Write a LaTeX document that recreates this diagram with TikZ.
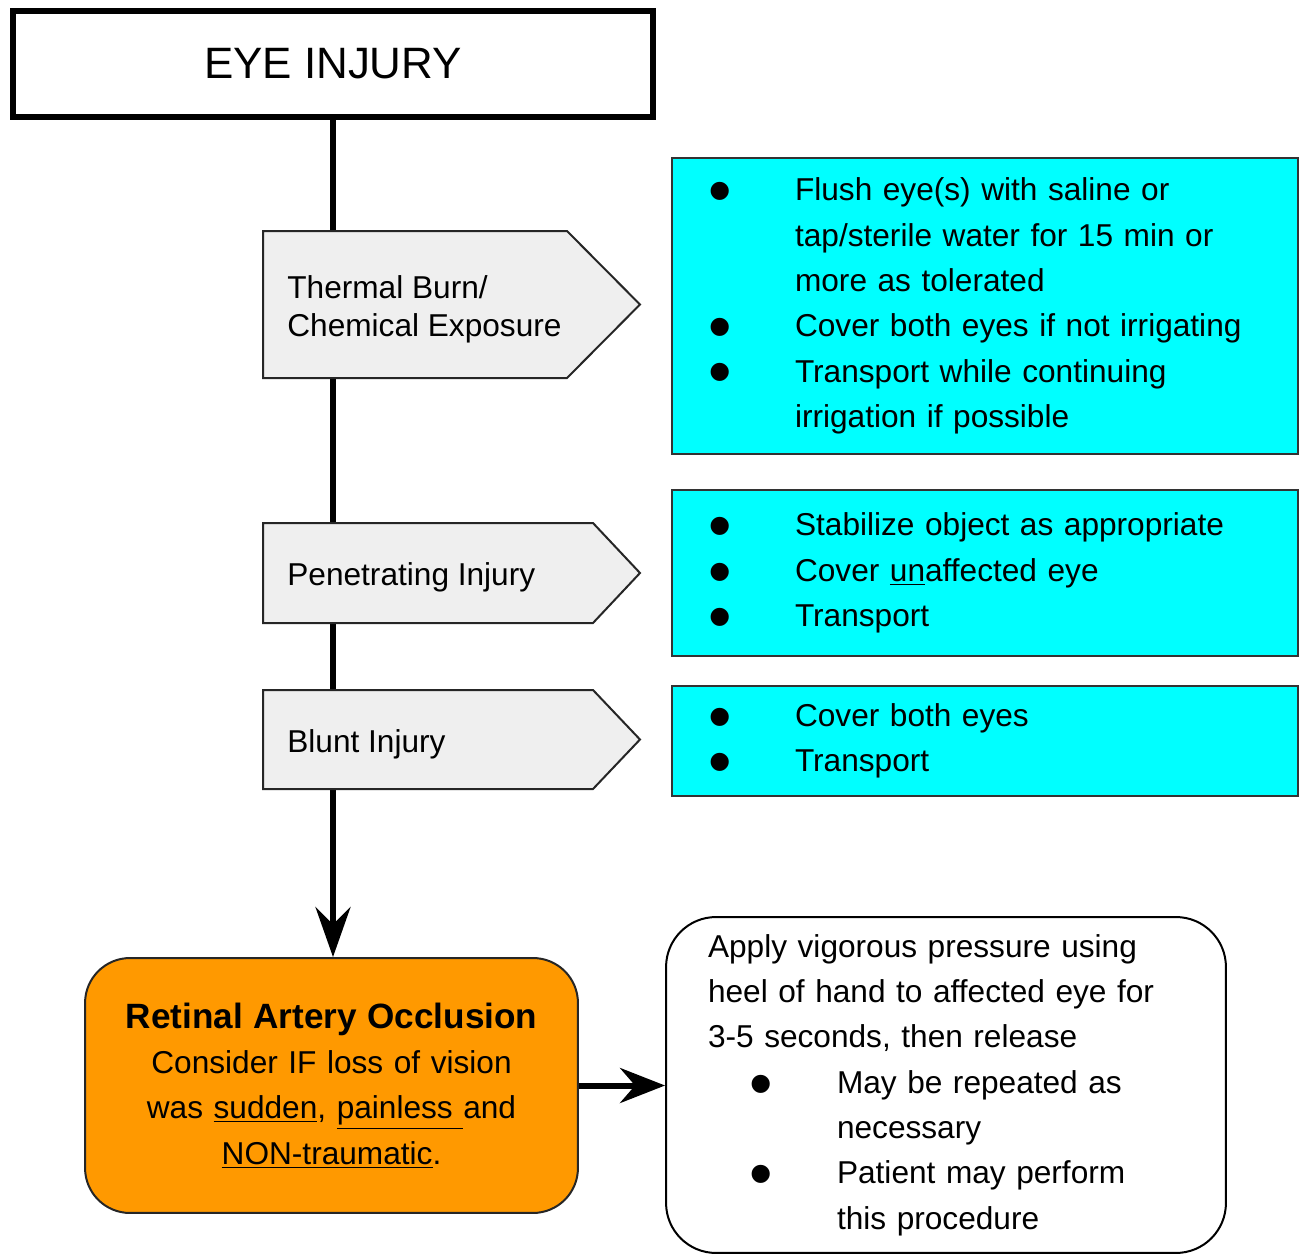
\documentclass[tikz,border=0pt]{standalone}
\usepackage{fontspec}
\setmainfont{Liberation Sans}
\usetikzlibrary{arrows.meta}
\definecolor{cyanbox}{HTML}{00FFFF}
\definecolor{orangebox}{HTML}{FF9900}
\definecolor{greybox}{HTML}{EFEFEF}
\newcommand{\bigdot}{\smash{\raisebox{-7.3pt}{\fontsize{38}{38}\selectfont\textbullet}}}
\newcommand{\cb}{\makebox[1.62cm][l]{\hspace{-0.11cm}\bigdot}}
\newcommand{\ci}{\hspace*{1.62cm}}
\newcommand{\wb}{\makebox[2.58cm][l]{\hspace{0.83cm}\bigdot}}
\newcommand{\wi}{\hspace*{2.58cm}}

\begin{document}
\begin{tikzpicture}[x=0.02cm,y=-0.02cm,
  txt/.style={font=\fontsize{18}{25.8}\selectfont},
  actbox/.style={txt,draw=black!80,line width=0.04cm,fill=cyanbox,minimum width=12.52cm,text width=10.84cm,inner xsep=0.84cm,inner ysep=0pt,align=left},
  sign/.style={draw=black!85,line width=0.04cm,fill=greybox},
  signtxt/.style={font=\fontsize{18}{21.5}\selectfont,anchor=west,align=left,inner sep=0pt},
  flow/.style={line width=0.12cm,-{Stealth[length=1cm,width=0.7cm,inset=0.35cm]}}]
\useasboundingbox (0,0) rectangle (1299,1254);

\node[draw,line width=0.12cm,minimum width=12.8cm,minimum height=2.12cm,font=\fontsize{25}{30}\selectfont] (eye) at (333,64) {EYE INJURY};

\node[txt,draw=black!85,line width=0.04cm,fill=orangebox,rounded corners=0.9cm,minimum width=9.86cm,minimum height=5.1cm,text width=9.5cm,align=center,inner sep=0pt] (roa) at (331.5,1085.5)
  {{\bfseries\fontsize{20}{26}\selectfont Retinal Artery Occlusion}\\Consider IF loss of vision\\was \underline{sudden}, \underline{painless\ }and\\\underline{NON-traumatic}.};

\node[txt,draw,line width=0.04cm,rounded corners=1cm,minimum height=6.72cm,text width=9.52cm,inner xsep=0.84cm,inner ysep=0pt,align=left] (press) at (946,1085)
  {Apply vigorous pressure using\\heel of hand to affected eye for\\3-5 seconds, then release\\\wb May be repeated as\\\wi necessary\\\wb Patient may perform\\\wi this procedure};

\node[actbox,minimum height=5.92cm] (flush) at (985,306)
  {\cb Flush eye(s) with saline or\\\ci tap/sterile water for 15 min or\\\ci more as tolerated\\\cb Cover both eyes if not irrigating\\\cb Transport while continuing\\\ci irrigation if possible};
\node[actbox,minimum height=3.32cm] (stab) at (985,573)
  {\cb Stabilize object as appropriate\\\cb Cover \underline{un}affected eye\\\cb Transport};
\node[actbox,minimum height=2.2cm] (cover) at (985,741)
  {\cb Cover both eyes\\\cb Transport};

\draw[flow] (eye.south) -- (eye.south |- roa.north);
\draw[flow,-{Stealth[length=0.9cm,width=0.7cm,inset=0.3cm]}] (roa.east) -- (roa.east -| press.west);

\foreach \yt/\yb/\xn in {231/378/567, 523/623/593, 690/789/593}
  \draw[sign] (263,\yt) -- (\xn,\yt) -- (640,{(\yt+\yb)/2}) -- (\xn,\yb) -- (263,\yb) -- cycle;
\node[signtxt] (burn) at (287,309.5) {Thermal Burn/\\Chemical Exposure};
\node[signtxt] (pen) at (287,577) {Penetrating Injury};
\node[signtxt] (blunt) at (287,744) {Blunt Injury};
\end{tikzpicture}
\end{document}
